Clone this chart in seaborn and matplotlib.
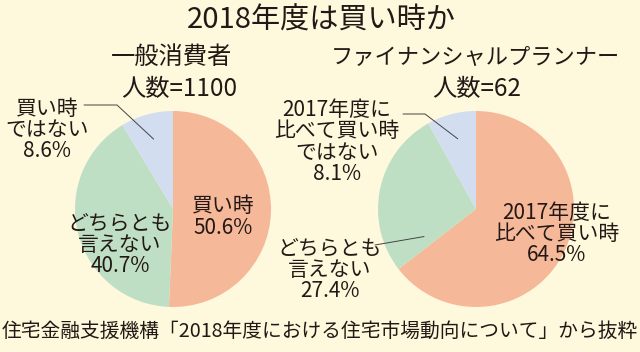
import matplotlib.pyplot as plt
import seaborn as sns
import numpy as np

# data
left_title = "一般消費者"
left_n = "人数=1100"
left_labels = ["買い時", "どちらとも\n言えない", "買い時\nではない"]
left_values = [50.6, 40.7, 8.6]

right_title = "ファイナンシャルプランナー"
right_n = "人数=62"
right_labels = ["2017年度に\n比べて買い時", "どちらとも\n言えない", "2017年度に\n比べて買い時\nではない"]
right_values = [64.5, 27.4, 8.1]

title = "2018年度は買い時か"
source = "住宅金融支援機構「2018年度における住宅市場動向について」から抜粋"

colors = ["#F5B99A", "#BFDFC4", "#D3DDF0"]
bg = "#FEF8DC"
ink = "#231815"

sns.set_theme(style="white")
plt.rcParams["font.family"] = ["Noto Sans CJK JP", "DejaVu Sans"]

W, H = 640, 352
fig = plt.figure(figsize=(W / 100, H / 100), dpi=100, facecolor=bg)


def px(x, y):
    return x / W, 1 - y / H


def txt(x, y, s, size, **kw):
    fig.text(*px(x, y), s, fontsize=size, color=ink, ha="center", va="center",
             linespacing=0.95, **kw)


def draw_pie(cx, cy, r, values):
    ax = fig.add_axes([(cx - r) / W, (H - cy - r) / H, 2 * r / W, 2 * r / H])
    wedges, _ = ax.pie(values, colors=colors, startangle=90, counterclock=False,
                       radius=1, wedgeprops=dict(linewidth=0))
    ax.set_xlim(-1, 1)
    ax.set_ylim(-1, 1)
    ax.set_aspect("equal")
    ax.axis("off")
    return ax, wedges


def leader(ax, wedge, frac, rad, pts):
    # point inside wedge, then polyline out to the label (figure pixels)
    ang = np.deg2rad(wedge.theta1 + frac * (wedge.theta2 - wedge.theta1))
    x0, y0 = rad * np.cos(ang), rad * np.sin(ang)
    disp = ax.transData.transform((x0, y0))
    fx, fy = fig.transFigure.inverted().transform(disp)
    xs = [p[0] / W for p in pts] + [fx]
    ys = [1 - p[1] / H for p in pts] + [fy]
    fig.add_artist(plt.Line2D(xs, ys, transform=fig.transFigure,
                              color="#444444", linewidth=0.7))


txt(321, 21, title, 21)

# left pie
axl, wl = draw_pie(173, 209, 98, left_values)
txt(172, 57, left_title, 17.5)
txt(179, 89, left_n, 17.5)
txt(223, 217, f"{left_labels[0]}\n{left_values[0]}%", 15)
txt(120, 245, f"{left_labels[1]}\n{left_values[1]}%", 15)
txt(47, 130, f"{left_labels[2]}\n{left_values[2]}%", 15)
leader(axl, wl[2], 0.5, 0.74, [(84, 105), (117, 105)])

# right pie
axr, wr = draw_pie(476, 209, 98, right_values)
txt(475, 57, right_title, 16)
txt(477, 89, right_n, 17.5)
txt(557, 234, f"{right_labels[0]}\n{right_values[0]}%", 15)
txt(330, 270, f"{right_labels[1]}\n{right_values[1]}%", 15)
txt(337, 142, f"{right_labels[2]}\n{right_values[2]}%", 15)
leader(axr, wr[2], 0.5, 0.74, [(403, 114), (425, 114)])
leader(axr, wr[1], 0.9, 0.6, [(375, 245)])

txt(320, 331, source, 14.2)

fig.savefig("out.png", dpi=100, facecolor=bg)
